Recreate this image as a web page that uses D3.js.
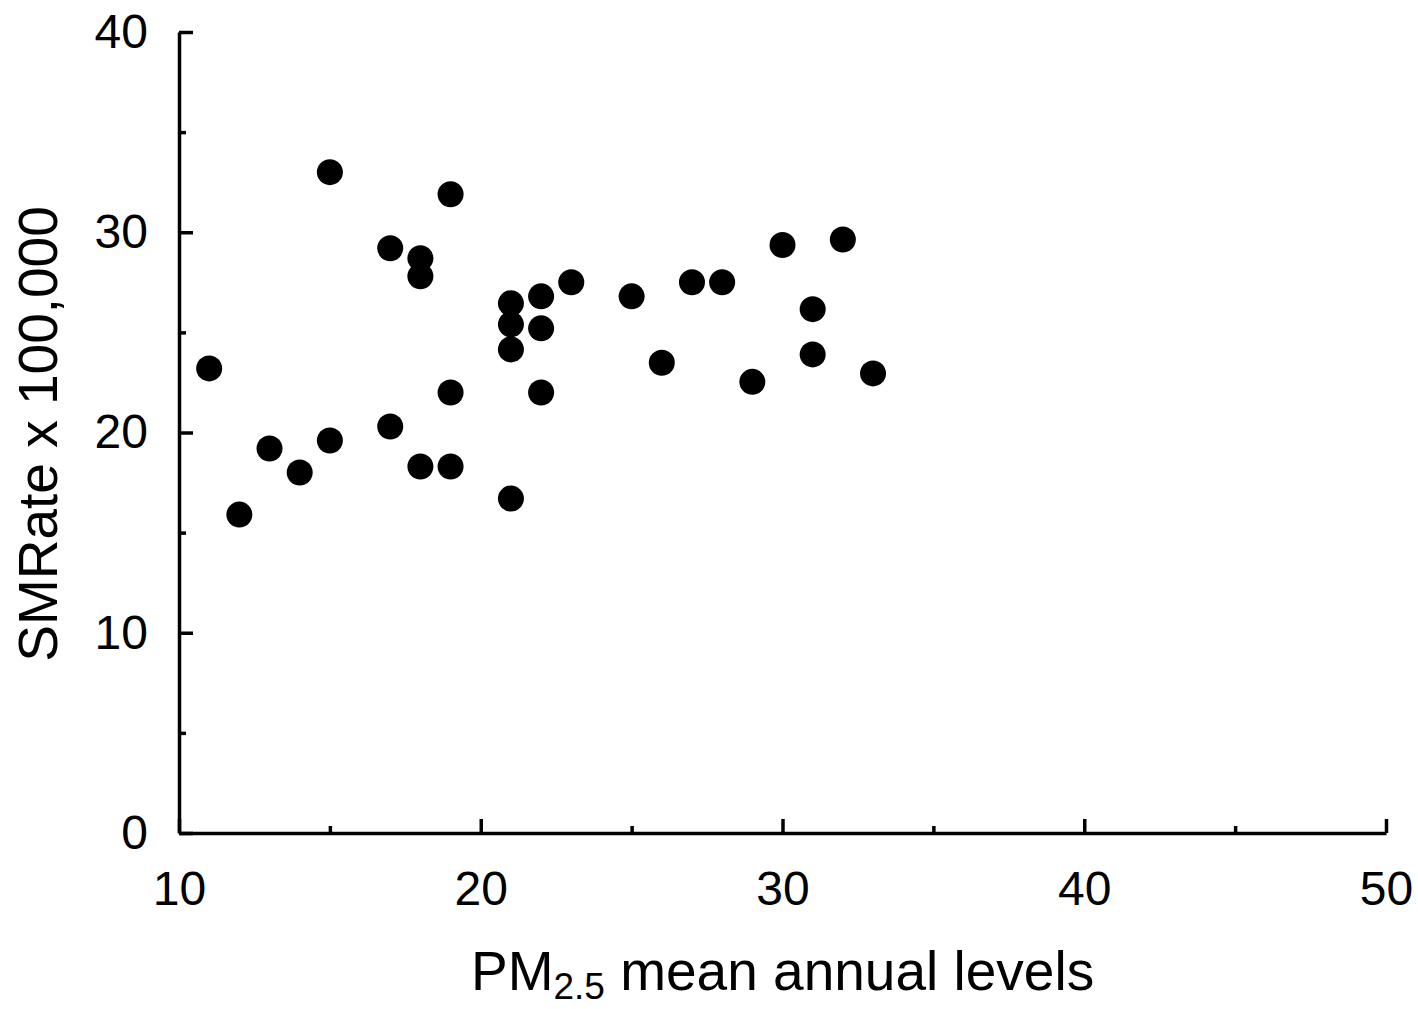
<!DOCTYPE html>
<html>
<head>
<meta charset="utf-8">
<script src="https://cdn.jsdelivr.net/npm/d3@7"></script>
<style>
  body { margin: 0; background: #fff; }
  svg { display: block; font-family: "Liberation Sans", Arial, sans-serif; }
</style>
</head>
<body>
<div id="chart"></div>
<script>
// PM2.5 annual mean vs SMRate per 100,000
const pm25 = [15, 19, 17, 18, 18, 23, 21, 22, 21, 22, 21, 11, 19, 22, 17, 15, 13, 14, 18, 19, 21, 12,
  25, 27, 28, 30, 32, 31, 26, 31, 29, 33];
const smRate = [33.0, 31.9, 29.2, 28.7, 27.8, 27.5, 26.45, 26.8, 25.4, 25.2, 24.15, 23.2, 22.0, 22.0, 20.3, 19.6, 19.2, 18.0, 18.3, 18.3, 16.7, 15.9,
  26.8, 27.5, 27.5, 29.36, 29.64, 26.16, 23.48, 23.9, 22.53, 22.95];
const xTicks = [10, 20, 30, 40, 50];
const xMinor = [15, 25, 35, 45];
const yTicks = [0, 10, 20, 30, 40];
const yMinor = [5, 15, 25, 35];

const width = 1418;
const height = 1009;
const margin = { top: 32, right: 32, bottom: 176, left: 179 };

const svg = d3.select('#chart').append('svg')
  .attr('width', width)
  .attr('height', height);

const x = d3.scaleLinear().domain([10, 50]).range([margin.left, width - margin.right]);
const y = d3.scaleLinear().domain([0, 40]).range([height - margin.bottom, margin.top]);

function styleAxis(g) {
  g.selectAll('path, line').attr('stroke', '#000').attr('stroke-width', 3.5);
  g.selectAll('text').attr('fill', '#000').attr('font-size', 48);
}

// minor ticks first
svg.append('g')
  .attr('transform', `translate(0,${y(0)})`)
  .call(d3.axisBottom(x).tickValues(xMinor).tickSize(-7).tickFormat(''))
  .call(styleAxis)
  .call(g => g.select('.domain').remove());
svg.append('g')
  .attr('transform', `translate(${x(10)},0)`)
  .call(d3.axisLeft(y).tickValues(yMinor).tickSize(-7).tickFormat(''))
  .call(styleAxis)
  .call(g => g.select('.domain').remove());

svg.append('g')
  .attr('transform', `translate(0,${y(0)})`)
  .call(d3.axisBottom(x).tickValues(xTicks).tickSizeInner(-14).tickSizeOuter(0).tickPadding(38))
  .call(styleAxis);
svg.append('g')
  .attr('transform', `translate(${x(10)},0)`)
  .call(d3.axisLeft(y).tickValues(yTicks).tickSizeInner(-14).tickSizeOuter(0).tickPadding(31))
  .call(styleAxis);

// points
svg.append('g')
  .selectAll('circle')
  .data(pm25.map((d, i) => [d, smRate[i]]))
  .join('circle')
  .attr('cx', d => x(d[0]))
  .attr('cy', d => y(d[1]))
  .attr('r', 13)
  .attr('fill', '#000');

// axis titles
const xt = svg.append('text')
  .attr('x', 471)
  .attr('y', 990)
  .attr('font-size', 55)
  .attr('fill', '#000');
xt.append('tspan').text('PM');
xt.append('tspan').attr('dy', 9).attr('font-size', 37).text('2.5');
xt.append('tspan').attr('dy', -9).text(' mean annual levels');

svg.append('text')
  .attr('transform', `translate(57,${434}) rotate(-90)`)
  .attr('text-anchor', 'middle')
  .attr('font-size', 55)
  .attr('fill', '#000')
  .text('SMRate x 100,000');
</script>
</body>
</html>
